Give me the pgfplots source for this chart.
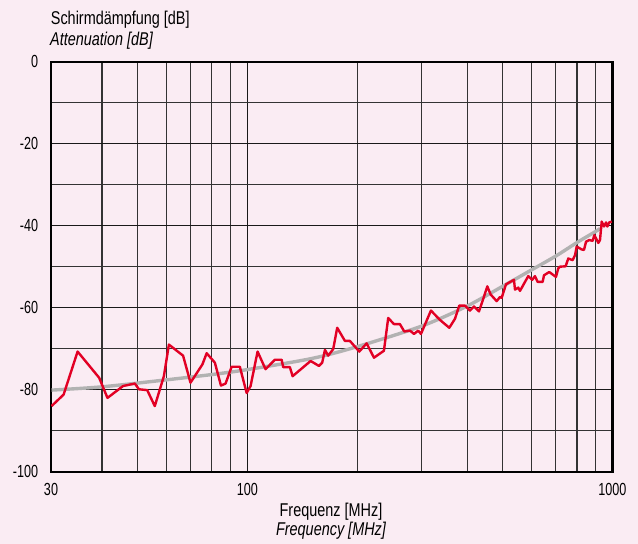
\documentclass[border=0pt]{standalone}
\usepackage{fontspec}
\setmainfont{Liberation Sans}[FakeStretch=0.78]
\newfontfamily\tickfont{Liberation Sans}[FakeStretch=0.72]
\usepackage{pgfplots}
\pgfplotsset{compat=1.18}
\definecolor{bg}{RGB}{250,236,243}
\definecolor{myred}{RGB}{226,0,36}
\definecolor{mygrey}{RGB}{178,178,178}
\pgfplotstableread{
f dB
29.1 -84.0
31.4 -81.2
34.3 -70.7
39.3 -77.1
41.4 -82.0
45.7 -79.1
49.2 -78.5
50.5 -79.9
53.2 -80.1
55.8 -84.0
59.1 -76.7
61.0 -69.0
66.7 -71.7
69.9 -78.3
75.4 -73.8
77.4 -71.1
81.5 -73.4
84.7 -79.0
87.2 -78.5
90.6 -74.4
95.4 -74.4
99.6 -80.8
102.1 -79.1
106.7 -70.7
112.2 -75.0
119.0 -72.7
124.2 -72.7
125.4 -74.5
130.8 -74.5
133.1 -76.7
149.1 -73.0
157.1 -74.2
160.4 -73.4
163.2 -70.3
166.6 -71.7
171.9 -70.1
176.3 -64.9
185.1 -68.1
191.0 -68.1
202.6 -70.7
212.3 -68.7
222.3 -72.2
236.7 -70.5
243.2 -62.5
252.1 -64.0
261.8 -64.0
269.1 -65.8
279.0 -65.6
286.1 -66.4
293.9 -65.6
299.0 -66.4
318.4 -60.7
337.2 -63.0
357.5 -64.9
370.6 -62.7
380.6 -59.5
394.7 -59.5
407.3 -60.7
417.7 -59.7
431.1 -60.9
443.0 -57.8
454.3 -54.8
464.2 -56.8
482.0 -58.4
492.0 -57.4
497.4 -57.6
511.1 -54.3
537.5 -53.2
541.0 -55.6
552.4 -55.1
558.3 -55.9
588.1 -52.3
603.1 -53.2
613.5 -52.3
624.0 -53.7
644.2 -53.7
649.5 -52.1
671.5 -51.3
700.5 -52.5
710.8 -50.4
718.4 -50.0
744.7 -49.9
757.1 -48.0
778.4 -48.4
789.8 -47.2
798.4 -45.1
824.0 -45.8
836.0 -45.9
846.7 -43.9
864.4 -43.5
883.1 -43.7
892.1 -42.3
915.0 -44.2
924.7 -43.5
934.7 -39.0
948.4 -40.2
960.4 -39.2
968.2 -40.2
980.6 -39.2
995.6 -39.0
}\measured
\pgfplotstableread{
f dB
29.1 -80.1
40 -79.3
60 -77.6
80 -76.3
100 -75.1
150 -72.4
200 -69.5
300 -64.5
400 -59.6
500 -54.8
600 -50.8
700 -47.4
800 -44.1
900 -41.4
925 -40.7
}\trend
\begin{document}
\begin{tikzpicture}[x=1bp,y=1bp]
\path[use as bounding box, fill=bg] (0,0) rectangle (638,544);
\begin{axis}[
  at={(51bp,72.3bp)}, anchor=south west,
  scale only axis, width=561.4bp, height=410bp,
  xmode=log, xmin=29, xmax=1000, ymin=-100, ymax=0,
  xtick={29,100,1000}, xticklabels={30,100,1000},
  minor xtick={40,50,60,70,80,90,200,300,400,500,600,700,800,900},
  ytick={-100,-80,-60,-40,-20,0}, yticklabels={-100,-80,-60,-40,-20,0},
  minor ytick={-90,-70,-50,-30,-10},
  xmajorgrids, xminorgrids, ymajorgrids, yminorgrids,
  major grid style={line width=1.1bp, black!90},
  minor grid style={line width=1.1bp, black!80},
  major tick length=0pt, minor tick length=0pt,
  axis line style={line width=2.3bp, black},
  tick label style={font=\tickfont\fontsize{17.5bp}{20bp}\selectfont},
  xticklabel style={anchor=base, inner sep=0pt, yshift=-24.3bp},
  yticklabel style={anchor=east, inner sep=0pt, xshift=-12.7bp},
  clip=true,
]
\addplot[mygrey, line width=3.4bp, smooth] table[x=f, y=dB] {\trend};
\addplot[myred, line width=2.4bp, line join=round] table[x=f, y=dB] {\measured};
\end{axis}
\begin{scope}[every node/.style={inner sep=0pt, font=\fontsize{18.5bp}{22bp}\selectfont}]
\node[anchor=base west] at (50.7,519.7) {Schirmdämpfung [dB]};
\node[anchor=base west] at (50,498.5) {\itshape Attenuation [dB]};
\node[anchor=base] at (331,27.3) {Frequenz [MHz]};
\node[anchor=base] at (331,8.3) {\itshape Frequency [MHz]};
\end{scope}
\end{tikzpicture}
\end{document}
